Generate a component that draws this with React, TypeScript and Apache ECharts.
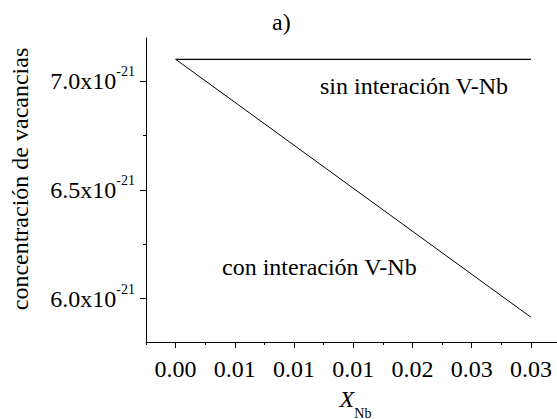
import React, { useEffect, useRef } from "react";
import * as echarts from "echarts";

// x: mole fraction of Nb
const xPoints = [0, 0.03];
// vacancy concentration, in units of 1e-21
const sinInteraccion = [7.102, 7.102];
const conInteraccion = [7.102, 5.914];

const xTickValues = [0, 0.005, 0.01, 0.015, 0.02, 0.025, 0.03];
const xTickLabels = ["0.00", "0.01", "0.01", "0.01", "0.02", "0.03", "0.03"];
const xMinorTickValues = [-0.0025, 0.0025, 0.0075, 0.0125, 0.0175, 0.0225, 0.0275];
const yTickValues = [6.0, 6.5, 7.0];
const yTickLabels = ["6.0x10", "6.5x10", "7.0x10"];
const yExponent = "-21";
const yMinorTickValues = [6.25, 6.75];

const FONT = "'Liberation Serif', 'Times New Roman', serif";

export default function App() {
  const ref = useRef<HTMLDivElement>(null);
  useEffect(() => {
    if (!ref.current) return;
    const chart = echarts.init(ref.current, null, { renderer: "svg" });
    const labelFor = (vals: number[], labels: string[], v: number) => {
      const i = vals.findIndex((t) => Math.abs(t - v) < 1e-9);
      return i >= 0 ? labels[i] : "";
    };
    chart.setOption({
      animation: false,
      backgroundColor: "#ffffff",
      title: {
        text: "a)",
        left: 272,
        top: 10,
        padding: 0,
        textStyle: { fontFamily: FONT, fontSize: 24, fontWeight: "normal", color: "#000" },
      },
      grid: { left: 146, top: 38, right: 0, bottom: 77, containLabel: false, outerBoundsMode: "none" },
      xAxis: [
        {
          type: "value",
          min: -0.0025,
          max: 0.0322,
          name: "{x|X}{s|Nb}",
          nameLocation: "middle",
          nameGap: 45,
          nameTextStyle: {
            fontFamily: FONT,
            color: "#000",
            padding: [0, 0, 0, 8],
            rich: {
              x: { fontFamily: FONT, fontStyle: "italic", fontSize: 24, lineHeight: 24, verticalAlign: "top", color: "#000" },
              s: { fontFamily: FONT, fontSize: 14, lineHeight: 14, padding: [19, 0, 0, 0], verticalAlign: "top", color: "#000" },
            },
          },
          axisLine: { show: true, onZero: false, lineStyle: { color: "#000", width: 1 } },
          axisTick: { show: true, length: 6, customValues: xTickValues, lineStyle: { color: "#000" } },
          axisLabel: {
            customValues: xTickValues,
            margin: 15,
            fontFamily: FONT,
            fontSize: 24,
            color: "#000",
            formatter: (v: number) => labelFor(xTickValues, xTickLabels, v),
          },
          splitLine: { show: false },
        },
        {
          type: "value",
          position: "bottom",
          min: -0.0025,
          max: 0.0322,
          axisLine: { show: false, onZero: false },
          axisTick: { show: true, length: 3, customValues: xMinorTickValues, lineStyle: { color: "#000" } },
          axisLabel: { show: false },
          splitLine: { show: false },
        },
      ],
      yAxis: [
        {
          type: "value",
          min: 5.8,
          max: 7.2,
          name: "concentración de vacancias",
          nameLocation: "middle",
          nameGap: 114,
          nameTextStyle: { fontFamily: FONT, fontSize: 24, color: "#000", padding: [0, 0, 0, 22] },
          axisLine: { show: true, onZero: false, lineStyle: { color: "#000", width: 1 } },
          axisTick: { show: true, length: 6, customValues: yTickValues, lineStyle: { color: "#000" } },
          axisLabel: {
            customValues: yTickValues,
            margin: 11,
            fontFamily: FONT,
            fontSize: 24,
            color: "#000",
            formatter: (v: number) => `{m|${labelFor(yTickValues, yTickLabels, v)}}{s|${yExponent}}`,
            rich: {
              m: { fontFamily: FONT, fontSize: 24, lineHeight: 33, verticalAlign: "middle", color: "#000" },
              s: { fontFamily: FONT, fontSize: 14, lineHeight: 14, verticalAlign: "top", color: "#000" },
            },
          },
          splitLine: { show: false },
        },
        {
          type: "value",
          position: "left",
          min: 5.8,
          max: 7.2,
          axisLine: { show: false, onZero: false },
          axisTick: { show: true, length: 3, customValues: yMinorTickValues, lineStyle: { color: "#000" } },
          axisLabel: { show: false },
          splitLine: { show: false },
        },
      ],
      graphic: [
        {
          type: "text",
          left: 320,
          top: 74,
          style: { text: "sin interación V-Nb", fontFamily: FONT, fontSize: 24, fill: "#000" },
        },
        {
          type: "text",
          left: 222,
          top: 255,
          style: { text: "con interación V-Nb", fontFamily: FONT, fontSize: 24, fill: "#000" },
        },
      ],
      series: [
        {
          name: "sin interación V-Nb",
          type: "line",
          data: xPoints.map((x, i) => [x, sinInteraccion[i]]),
          showSymbol: false,
          lineStyle: { color: "#000", width: 1.2 },
        },
        {
          name: "con interación V-Nb",
          type: "line",
          data: xPoints.map((x, i) => [x, conInteraccion[i]]),
          showSymbol: false,
          lineStyle: { color: "#000", width: 1 },
        },
      ],
    });
    return () => chart.dispose();
  }, []);
  return <div ref={ref} style={{ position: "fixed", left: 0, top: 0, width: 557, height: 419 }} />;
}
